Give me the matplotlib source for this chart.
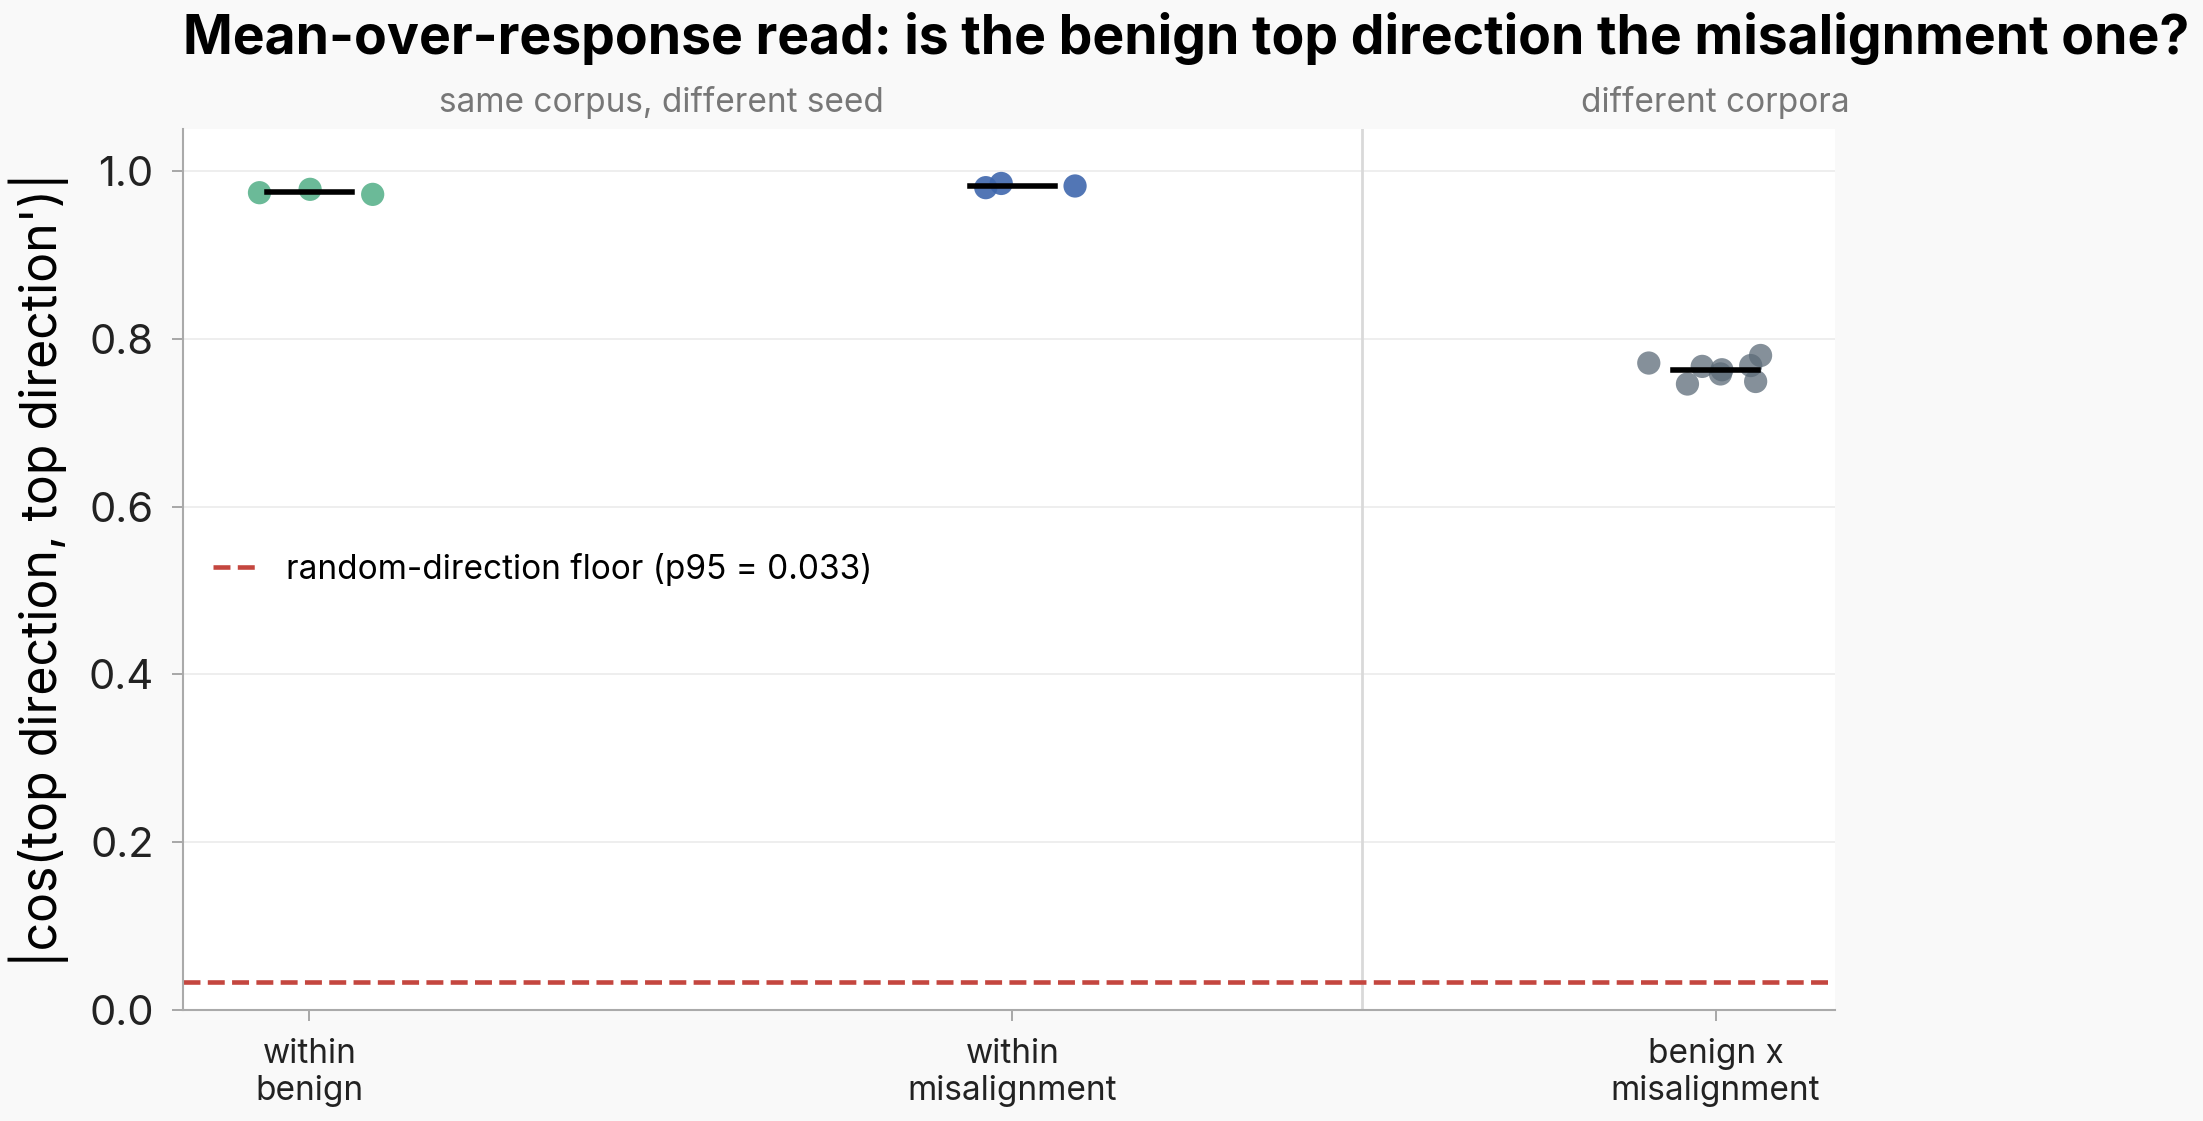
import matplotlib
matplotlib.use("Agg")
import matplotlib.pyplot as plt
import matplotlib.transforms as mtransforms

plt.rcParams["font.family"] = ["Inter", "DejaVu Sans"]

# categories and the two groups above them
categories = ["within\nbenign", "within\nmisalignment", "benign x\nmisalignment"]
group_labels = ["same corpus, different seed", "different corpora"]
group_centers = [0.5, 2.0]

# |cos| values, with the horizontal jitter of each point
within_benign = [0.974, 0.978, 0.972]
within_benign_jitter = [-0.071, 0.001, 0.090]
within_misalignment = [0.980, 0.985, 0.982]
within_misalignment_jitter = [-0.038, -0.016, 0.089]
benign_x_misalignment = [0.771, 0.746, 0.767, 0.763, 0.758, 0.768, 0.780, 0.749]
benign_x_misalignment_jitter = [-0.095, -0.040, -0.019, 0.009, 0.007, 0.050, 0.064, 0.057]

random_floor = 0.033

series = [within_benign, within_misalignment, benign_x_misalignment]
jitters = [within_benign_jitter, within_misalignment_jitter, benign_x_misalignment_jitter]
colors = ["#5bb38d", "#3f67ad", "#5c6b78"]
alphas = [0.9, 0.9, 0.75]

fig = plt.figure(figsize=(22.03, 11.21), dpi=100, facecolor="#f9f9f9")
ax = fig.add_axes([0.083, 0.099, 0.750, 0.786])
ax.set_facecolor("white")

for i, (vals, jit) in enumerate(zip(series, jitters)):
    xs = [i + j for j in jit]
    ax.scatter(xs, vals, s=280, color=colors[i], alpha=alphas[i], edgecolors="none", zorder=3)
    mean = sum(vals) / len(vals)
    ax.plot([i - 0.06, i + 0.06], [mean, mean], color="black", lw=4, zorder=4)

ax.axhline(random_floor, color="#c4463f", ls="--", lw=3.3, zorder=2,
           label="random-direction floor (p95 = 0.033)")
ax.axvline(1.497, color="#d9d9d9", lw=2, zorder=1)

ax.set_xlim(-0.18, 2.17)
ax.set_ylim(0, 1.05)
ax.set_xticks(range(len(categories)))
ax.set_xticklabels(categories, fontsize=24)
ax.set_yticks([0.0, 0.2, 0.4, 0.6, 0.8, 1.0])
ax.set_yticklabels(["0.0", "0.2", "0.4", "0.6", "0.8", "1.0"], fontsize=30)
ax.tick_params(axis="both", colors="#999999", labelcolor="#222222", length=8, width=1.2)
ax.tick_params(axis="x", pad=12)
ax.tick_params(axis="y", pad=13)
ax.grid(axis="y", color="#ebebeb", lw=1.2, zorder=0)
ax.set_axisbelow(True)

for side in ["top", "right"]:
    ax.spines[side].set_visible(False)
for side in ["left", "bottom"]:
    ax.spines[side].set_color("#aaaaaa")
    ax.spines[side].set_linewidth(1.5)

ax.set_ylabel("|cos(top direction, top direction')|", fontsize=36, labelpad=14)

trans = mtransforms.blended_transform_factory(ax.transData, ax.transAxes)
for cx, lab in zip(group_centers, group_labels):
    ax.text(cx, 1.030, lab, transform=trans, ha="center", va="center", fontsize=24, color="#777777")

ax.set_title("Mean-over-response read: is the benign top direction the misalignment one?",
             loc="left", fontsize=38.5, fontweight="bold", pad=54)

ax.legend(loc="center left", frameon=False, fontsize=24, handlelength=1.4)

fig.savefig("out.png", dpi=100, facecolor=fig.get_facecolor())
